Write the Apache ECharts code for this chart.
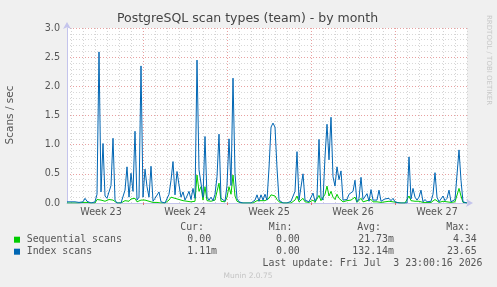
<!DOCTYPE html>
<html><head><meta charset="utf-8">
<script src="https://cdn.jsdelivr.net/npm/echarts@6/dist/echarts.min.js"></script>
<style>html,body{margin:0;padding:0;background:#f0f0f0}#c{width:497px;height:287px}</style>
</head><body><div id="c"></div>
<script>
const chartTitle = 'PostgreSQL scan types (team) - by month';
const yAxisName = 'Scans / sec';
const weekLabels = ['Week 23', 'Week 24', 'Week 25', 'Week 26', 'Week 27'];
const seriesNames = ['Sequential scans', 'Index scans'];
const seriesColors = ['#00cc00', '#0066b3'];
// one sample every 4 hours
const seqScans = [
  0,0,0,0,0,0,0,0,0.01,0.01,
  0.01,0,0,0,0,0.06,0.07,0.05,0.06,0.03,
  0.04,0.06,0.08,0.05,0.02,0,0,0,0,0.04,
  0.06,0.03,0.07,0.05,0.08,0.02,0.03,0.05,0.02,0.05,
  0.04,0.03,0.05,0.01,0.02,0.01,0.03,0,0,0,
  0,0.05,0.1,0.12,0.08,0.11,0.06,0.03,0.04,0.02,
  0.03,0.05,0.02,0.05,0.03,0.48,0.2,0.28,0.05,0.28,
  0.04,0.02,0.03,0.02,0.05,0.2,0.34,0.03,0.02,0.02,
  0.1,0.28,0.15,0.48,0.12,0.03,0,0,0,0,
  0,0,0,0,0.02,0.04,0.01,0.04,0.02,0.04,
  0.03,0.08,0.14,0.14,0.12,0.06,0.02,0,0,0,
  0,0,0,0,0.05,0.12,0.02,0.01,0.08,0.02,
  0.03,0.01,0.02,0.05,0.01,0.04,0.13,0.04,0.03,0.15,
  0.29,0.12,0.2,0.1,0.06,0.15,0.08,0.1,0.02,0.03,
  0.04,0.06,0.05,0.06,0.1,0.01,0.03,0.08,0.02,0.01,
  0.04,0.01,0.06,0.02,0.01,0.02,0.05,0.01,0.01,0.02,
  0.02,0.03,0.01,0.02,0.01,0.01,0,0,0,0,
  0,0.12,0.04,0.06,0.03,0.02,0.03,0.05,0.01,0.02,
  0.01,0,0.01,0.04,0.06,0.03,0.01,0.01,0.03,0.01,
  0.02,0.05,0.01,0.01,0.02,0.02,0.25,0.12,0.01,0,
  0
];
const idxScans = [
  0.02,0.01,0.02,0.01,0.02,0.01,0.01,0,0.02,0.08,
  0.03,0,0,0,0.02,0.15,2.59,0.19,1.02,0.12,
  0.08,0.19,0.3,1.11,0.05,0,0,0,0,0.22,
  0.62,0.1,0.51,0.2,1.23,0.05,0.1,2.35,0.1,0.58,
  0.28,0.1,0.63,0.03,0.08,0.05,0.19,0.02,0,0,
  0.02,0.15,0.39,0.71,0.14,0.54,0.31,0.1,0.19,0.05,
  0.12,0.2,0.06,0.25,0.08,2.45,0.57,0.55,0.1,1.14,
  0.1,0.05,0.1,0.04,0.15,0.45,1.18,0.08,0.05,0.03,
  0.3,1.1,0.3,2.14,0.5,0.08,0.02,0,0,0,
  0,0,0,0,0.05,0.14,0.03,0.14,0.05,0.15,
  0.05,0.6,1.3,1.37,1.3,0.6,0.05,0.02,0,0,
  0,0.02,0.03,0,0.2,0.88,0.05,0.02,0.5,0.05,
  0.08,0.02,0.05,0.17,0.03,0.1,1.09,0.1,0.05,0.79,
  1.35,0.74,1.47,0.45,0.29,0.62,0.4,0.55,0.05,0.03,
  0.06,0.15,0.15,0.2,0.39,0.02,0.08,0.44,0.06,0.03,
  0.16,0.03,0.23,0.05,0.02,0.05,0.22,0.03,0.02,0.07,
  0.07,0.08,0.04,0.08,0.02,0.05,0,0,0,0,
  0,0.79,0.07,0.25,0.1,0.05,0.1,0.22,0.02,0.06,
  0.02,0,0.03,0.15,0.52,0.1,0.02,0.02,0.12,0.04,
  0.08,0.22,0.02,0.02,0.06,0.05,0.91,0.39,0.02,0.01,
  0
];
const statHeaders = ['Cur:', 'Min:', 'Avg:', 'Max:'];
const seqStats = ['  0.00', '  0.00', ' 21.73m', '  4.34'];
const idxStats = ['  1.11m', '  0.00', '132.14m', ' 23.65'];
const lastUpdate = 'Last update: Fri Jul  3 23:00:16 2026';
const footerText = 'Munin 2.0.75';
const sideText = 'RRDTOOL / TOBI OETIKER';

const slots = seqScans.map((_, i) => String(i * 4));
const SAMPLES_PER_DAY = 6, SAMPLES_PER_WEEK = 42;

const chart = echarts.init(document.getElementById('c'), null, {renderer: 'canvas'});
const sans = 'DejaVu Sans';
const txtColor = '#555';

const graphics = [
  {type: 'text', x: 247.5, y: 19, style: {text: chartTitle, font: '12.5px "DejaVu Sans"', fill: '#444', align: 'center', verticalAlign: 'middle'}},
  {type: 'text', x: 10.5, y: 115, rotation: Math.PI / 2, style: {text: yAxisName, font: '10.5px "DejaVu Sans"', fill: txtColor, align: 'center', verticalAlign: 'middle'}},
  {type: 'text', x: 488.5, y: 15, rotation: -Math.PI / 2, style: {text: sideText, font: '7px "DejaVu Sans"', fill: '#c8c8c8', align: 'left', verticalAlign: 'middle'}},
  {type: 'text', x: 248, y: 276, style: {text: footerText, font: '7.5px "DejaVu Sans"', fill: '#c4c4c4', align: 'center', verticalAlign: 'middle'}},
  {type: 'text', x: 482.5, y: 263.5, style: {text: lastUpdate, font: '9.9px "DejaVu Sans Mono"', fill: txtColor, align: 'right', verticalAlign: 'middle'}}
];
const headerRight = [204, 292.5, 381, 470];
const colLeft = [175.4, 264.1, 352.3, 441];
statHeaders.forEach((h, k) => graphics.push({type: 'text', x: headerRight[k], y: 227.7, style: {text: h, font: '9.9px "DejaVu Sans Mono"', fill: txtColor, align: 'right', verticalAlign: 'middle'}}));
[seqStats, idxStats].forEach((row, r) => {
  const y = 239.7 + r * 12;
  graphics.push({type: 'rect', shape: {x: 14, y: y - 3, width: 6, height: 6}, style: {fill: seriesColors[r]}});
  graphics.push({type: 'text', x: 26.7, y: y, style: {text: seriesNames[r], font: '9.9px "DejaVu Sans Mono"', fill: txtColor, align: 'left', verticalAlign: 'middle'}});
  row.forEach((v, k) => graphics.push({type: 'text', x: colLeft[k], y: y, style: {text: v, font: '9.9px "DejaVu Sans Mono"', fill: txtColor, align: 'left', verticalAlign: 'middle'}}));
});

const axisCol = '#c4c4ec';
chart.setOption({
  backgroundColor: '#f0f0f0',
  animation: false,
  grid: {left: 67, right: 30, top: 28, bottom: 84, show: true, backgroundColor: '#ffffff', borderWidth: 0},
  xAxis: [
    {
      type: 'category', data: slots, boundaryGap: false, position: 'bottom',
      axisLine: {show: true, lineStyle: {color: axisCol, width: 1}, symbol: ['none', 'arrow'], symbolSize: [6, 7], symbolOffset: [0, 6]},
      axisTick: {show: false}, axisLabel: {show: false},
      splitLine: {show: true, interval: (i) => i % SAMPLES_PER_DAY === 2 && i % SAMPLES_PER_WEEK !== 38, lineStyle: {color: '#d4d4d4', type: [1, 2], width: 1}}
    },
    {
      type: 'category', data: slots, boundaryGap: false, position: 'bottom',
      axisLine: {show: false},
      axisTick: {show: true, length: 2, inside: false, interval: (i) => i % SAMPLES_PER_WEEK === 38, lineStyle: {color: '#e07070'}},
      axisLabel: {show: true, interval: (i) => i % SAMPLES_PER_WEEK === 17, formatter: (v, i) => weekLabels[Math.floor(i / SAMPLES_PER_WEEK)], color: txtColor, fontFamily: sans, fontSize: 9.6, margin: 4},
      splitLine: {show: true, interval: (i) => i % SAMPLES_PER_WEEK === 38, lineStyle: {color: '#e8a0a0', type: [1, 2], width: 1}}
    }
  ],
  yAxis: {
    type: 'value', min: 0, max: 3, interval: 0.5,
    axisLine: {show: true, lineStyle: {color: axisCol, width: 1}, symbol: ['none', 'arrow'], symbolSize: [6, 7], symbolOffset: [0, 6]},
    axisTick: {show: false},
    axisLabel: {formatter: (v) => v.toFixed(1), color: txtColor, fontFamily: sans, fontSize: 9.6, margin: 7},
    splitLine: {show: true, lineStyle: {color: '#e8a0a0', type: [1, 2], width: 1}},
    minorTick: {show: false, splitNumber: 5},
    minorSplitLine: {show: true, lineStyle: {color: '#d8d8d8', type: [1, 2], width: 1}}
  },
  series: [
    {name: seriesNames[0], type: 'line', data: seqScans, xAxisIndex: 0, showSymbol: false, lineStyle: {color: seriesColors[0], width: 1}, itemStyle: {color: seriesColors[0]}, z: 3},
    {name: seriesNames[1], type: 'line', data: idxScans, xAxisIndex: 0, showSymbol: false, lineStyle: {color: seriesColors[1], width: 1}, itemStyle: {color: seriesColors[1]}, z: 4}
  ],
  graphic: graphics
});
</script>
</body></html>
